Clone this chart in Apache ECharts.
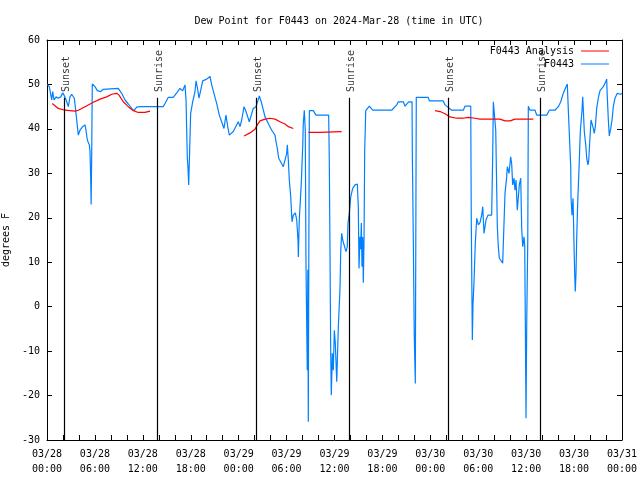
<!DOCTYPE html>
<html>
<head>
<meta charset="utf-8">
<script src="https://cdn.jsdelivr.net/npm/echarts@6/dist/echarts.min.js"></script>
<style>html,body{margin:0;padding:0;background:#fff}#c{width:640px;height:480px}</style>
</head>
<body>
<div id="c"></div>
<script>
// Hours since 2024-03-28 00:00 UTC
var obsHours = [0.04,0.29,0.59,0.71,0.88,1.13,1.41,1.72,1.97,2.25,2.47,2.67,2.88,3.09,3.29,3.42,3.59,3.72,3.92,4.13,4.47,4.76,4.88,5.05,5.30,5.38,5.47,5.53,5.60,5.67,6.01,6.30,6.72,7.05,7.26,8.93,9.35,9.77,10.18,10.61,10.89,11.23,11.65,14.56,14.78,15.19,15.81,16.24,16.65,16.99,17.28,17.41,17.57,17.66,17.74,17.82,17.99,18.24,18.53,18.66,18.85,19.03,19.25,19.50,20.00,20.41,20.62,20.91,21.25,21.58,21.79,21.98,22.16,22.41,22.63,22.83,23.33,23.95,24.17,24.38,24.67,24.92,25.33,25.83,26.17,26.59,26.89,27.30,27.71,28.14,28.55,28.68,28.84,29.01,29.26,29.59,30.02,30.09,30.22,30.34,30.52,30.68,30.84,31.09,31.27,31.43,31.47,31.59,31.84,32.02,32.09,32.22,32.31,32.34,32.43,32.59,32.66,32.72,32.78,32.85,33.35,33.68,35.27,35.35,35.44,35.52,35.60,35.73,35.85,35.98,36.10,36.28,36.35,36.48,36.69,36.78,36.90,37.03,37.32,37.44,37.60,37.69,37.85,38.03,38.28,38.57,38.86,38.98,39.07,39.19,39.28,39.36,39.44,39.53,39.61,39.70,39.78,39.91,40.36,40.78,43.16,43.79,43.99,44.62,44.83,45.08,45.29,45.71,45.74,45.87,45.99,46.12,46.18,46.24,47.75,47.87,49.62,49.84,50.05,50.68,52.13,52.34,53.06,53.13,53.26,53.34,53.47,53.63,53.81,54.01,54.22,54.43,54.56,54.72,54.97,55.22,55.47,55.68,55.81,55.89,56.10,56.19,56.31,56.39,56.51,56.64,57.06,57.23,57.35,57.56,57.64,57.85,58.06,58.19,58.31,58.48,58.60,58.73,58.89,59.14,59.32,59.44,59.57,59.73,59.82,59.89,59.98,60.07,60.20,60.27,60.48,61.11,61.32,62.57,62.90,63.61,64.03,64.33,64.65,64.99,65.15,65.28,65.40,65.58,65.62,65.74,65.87,65.99,66.08,66.15,66.24,66.33,66.45,66.62,66.78,66.99,67.08,67.16,67.28,67.46,67.58,67.74,67.83,67.96,68.12,68.24,68.41,68.53,68.66,68.83,69.03,69.25,69.66,69.96,70.08,70.16,70.29,70.41,70.59,70.75,70.91,71.12,71.41,71.59,71.84,72.0];
var obsDew = [50,49.5,46.5,48.4,46.5,47.2,46.9,47.2,48.1,47.2,46.1,45,47.2,47.8,47.6,46.9,44.2,42,38.6,39.7,40.5,40.9,39.7,37.5,36.4,35.2,29,23,35,50.1,49.5,48.6,48.4,48.9,49.1,49.1,48,46.5,45.6,44.6,44.1,44.9,45,45,45.7,47.1,47.1,48.1,49.1,48.6,49.9,46.5,33.4,31.1,27.4,32.5,43.5,46.1,48.4,50.8,49.1,46.9,48.7,50.8,51.2,51.8,49.9,48,45.7,43.1,42,42.3,40.1,43.1,40.5,38.6,39.4,41.6,40.5,42,45,43.9,41.6,44.6,45,47.4,45.7,42.7,41.2,39.7,38.6,37.1,35.6,33.4,33.2,31.5,34.5,36.4,33,28.5,24.7,19.1,20.6,21.1,19.5,15,11.2,19.5,27.8,36,41.2,44.2,44.2,39.7,9.4,-14.3,8.3,-25.9,9.4,44.1,44.1,43.1,43.1,32.6,11.6,-9.4,-19.9,-10.5,-14.3,-5.3,-8.2,-16.9,-12.6,-4.5,4.1,12.4,16.5,15,13.1,12.4,13.5,18.8,21,24.7,26.6,27.4,27.6,22.5,8.6,15.7,12.9,18.8,9,15.7,5.4,15.4,34.9,44.1,45.1,44.2,44.2,45.4,46.1,46.1,45.1,45.1,46.1,46.1,35.6,14.6,-6.8,-17.3,14.6,47.1,47.1,46.3,46.3,45.4,45.4,44.2,44.2,45.1,45.1,18.8,-7.5,0.4,5.6,14.3,19.9,18.4,18.9,20.6,22.5,16.5,19.5,20.6,20.2,20.6,34.1,46.1,46.1,39.7,26.6,18,13.5,10.9,9.8,10,25.5,29.2,31.5,30,33.7,32,27.4,28.9,26.2,28.5,21.7,27.4,28.9,17.6,13.5,15.7,13.5,-2.3,-25.1,-3.7,15,45.1,44.2,44.2,43.1,43.1,44.2,44.2,45,46.1,48,49.5,50.1,44.2,39,31.5,24.4,20.6,24.4,13.9,7.1,3.4,7.5,15.4,23.3,31.1,39.4,44.2,47.2,44.2,39.4,36.4,33.4,31.9,32.9,37.1,42,41.6,40.1,39,40.5,44.6,46.9,48.6,49.5,50.6,51.2,47.2,42,38.4,40.1,42,45,46.9,48,48.4,47.8,48];

var anaHours = [0.66,1.41,2.25,3.51,3.92,4.76,5.80,6.64,7.48,8.10,8.73,9.02,9.55,10.18,10.81,11.43,12.27,12.90,null,24.67,25.42,26.05,26.33,26.67,27.30,27.92,28.55,29.18,29.80,30.22,30.84,null,32.72,34.10,34.19,36.90,null,48.59,49.22,49.84,50.46,51.30,52.13,52.76,53.59,54.22,56.72,57.35,57.98,58.60,60.89];
var anaDew = [45.7,44.6,44.2,44,44.2,45,46,46.7,47.2,47.8,48,47.6,46.1,45,44.1,43.7,43.7,44,null,38.4,39.1,39.9,40.9,41.8,42.2,42.4,42.2,41.6,41.1,40.5,40.1,null,39.2,39.2,39.4,39.4,null,44.1,43.9,43.4,42.7,42.4,42.4,42.6,42.4,42.2,42.2,41.8,41.8,42.2,42.2];

var eventHours = [2.17, 13.77, 26.17, 37.85, 50.25, 61.73];
var eventNames = ["Sunset", "Sunrise", "Sunset", "Sunrise", "Sunset", "Sunrise"];
var eventLineTop = 47;
var eventLabelY = 48.3;

var yMin = -30, yMax = 60, yStep = 10;
var xMin = 0, xMax = 72, xStep = 6;
var startDay = 28;

var FONT = "DejaVu Sans Mono";

function pair(xs, ys) {
  return xs.map(function (x, i) { return (x === null || ys[i] === null) ? null : [x, ys[i]]; });
}
function fmtX(v) {
  var d = startDay + Math.floor(v / 24);
  var h = v % 24;
  return "03/" + d + "\n" + (h < 10 ? "0" : "") + h + ":00";
}

var chart = echarts.init(document.getElementById('c'), null, {renderer: 'canvas'});
var axisCommonX = {
  type: 'value', min: xMin, max: xMax, interval: xStep,
  axisLine: {show: true, onZero: false, lineStyle: {color: '#000', width: 1}},
  axisTick: {show: true, inside: true, length: 5, lineStyle: {color: '#000'}},
  minorTick: {show: true, splitNumber: 3, length: 5, lineStyle: {color: '#000'}},
  splitLine: {show: false}
};
var axisCommonY = {
  type: 'value', min: yMin, max: yMax, interval: yStep,
  axisLine: {show: true, onZero: false, lineStyle: {color: '#000', width: 1}},
  axisTick: {show: true, inside: true, length: 5, lineStyle: {color: '#000'}},
  splitLine: {show: false}
};

chart.setOption({
  animation: false,
  backgroundColor: '#fff',
  textStyle: {fontFamily: FONT},
  title: {
    text: 'Dew Point for F0443 on 2024-Mar-28 (time in UTC)',
    left: 334, top: 11, textAlign: 'center',
    textStyle: {fontFamily: FONT, fontSize: 10, fontWeight: 'normal', color: '#000'}
  },
  legend: {
    data: ['F0443 Analysis', 'F0443'],
    orient: 'vertical', align: 'right',
    right: 26, top: 40,
    icon: 'rect',
    itemWidth: 28, itemHeight: 1, itemGap: 1,
    textStyle: {fontFamily: FONT, fontSize: 10, color: '#000', padding: [0, 2, 0, 0], lineHeight: 12}
  },
  grid: {left: 47, right: 18, top: 40, bottom: 40, containLabel: false, outerBoundsMode: 'none'},
  xAxis: [
    Object.assign({}, axisCommonX, {
      position: 'bottom',
      axisLabel: {show: true, formatter: fmtX, color: '#000', fontFamily: FONT, fontSize: 10, lineHeight: 15, margin: 7}
    }),
    Object.assign({}, axisCommonX, {position: 'top', axisLabel: {show: false}})
  ],
  yAxis: [
    Object.assign({}, axisCommonY, {
      position: 'left',
      name: 'degrees F', nameLocation: 'middle', nameGap: 25, nameRotate: 90,
      nameTextStyle: {fontFamily: FONT, fontSize: 10, color: '#000'},
      axisLabel: {show: true, color: '#000', fontFamily: FONT, fontSize: 10, margin: 7}
    }),
    Object.assign({}, axisCommonY, {position: 'right', axisLabel: {show: false}})
  ],
  series: [
    {
      name: 'F0443 Analysis', type: 'line', data: pair(anaHours, anaDew),
      symbol: 'none', connectNulls: false, z: 3,
      lineStyle: {color: '#ff0000', width: 1.2}, itemStyle: {color: '#ff0000'}
    },
    {
      name: 'F0443', type: 'line', data: pair(obsHours, obsDew),
      symbol: 'none', z: 2,
      lineStyle: {color: '#0080ff', width: 1.2}, itemStyle: {color: '#0080ff'}
    },
    {
      name: 'events', type: 'scatter', z: 4,
      data: eventHours.map(function (t, i) { return {value: [t, eventLabelY], name: eventNames[i]}; }),
      symbolSize: 1, itemStyle: {color: 'rgba(0,0,0,0)'},
      label: {
        show: true, formatter: function (p) { return p.name; },
        position: 'inside', rotate: 90, align: 'left', verticalAlign: 'middle',
        offset: [0, 2.5],
        color: '#000', fontFamily: FONT, fontSize: 10
      },
      silent: true,
      markLine: {
        silent: true, symbol: 'none', animation: false,
        label: {show: false},
        lineStyle: {color: '#000', width: 1.2, type: 'solid'},
        data: eventHours.map(function (t) { return [{coord: [t, yMin]}, {coord: [t, eventLineTop]}]; })
      }
    }
  ]
});
</script>
</body>
</html>
